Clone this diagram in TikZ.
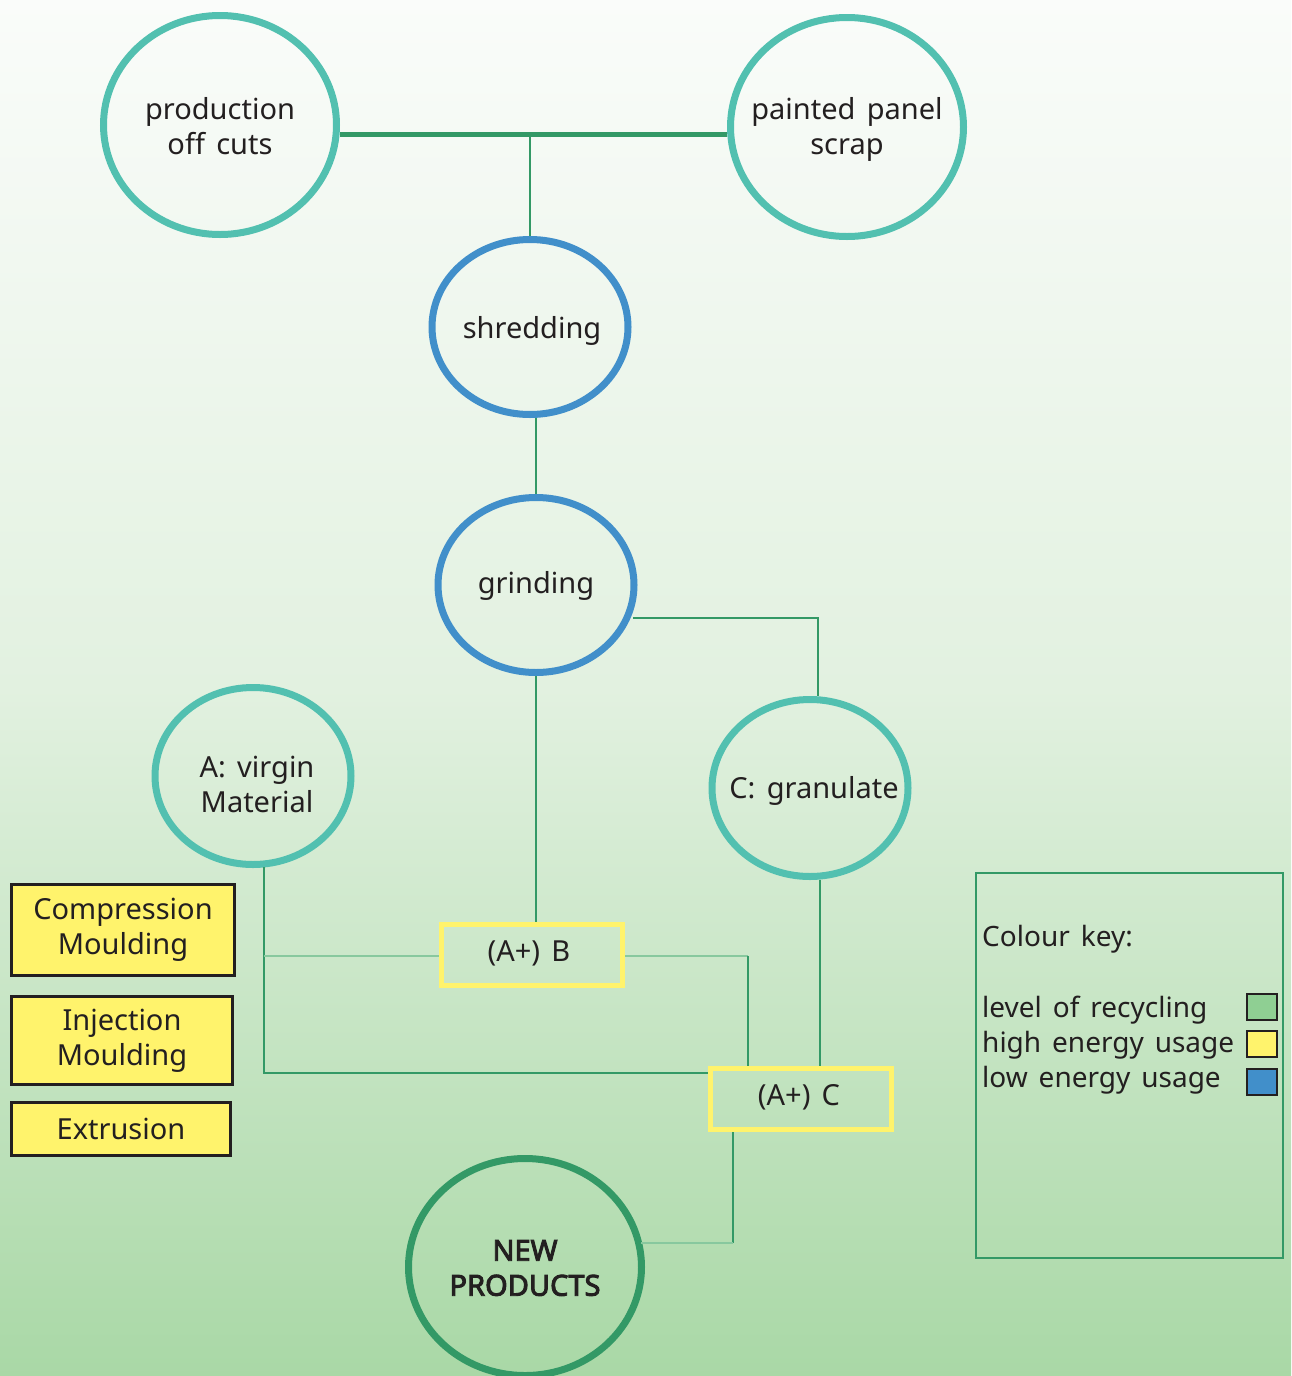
\documentclass[tikz,border=0pt]{standalone}
\usepackage{fontspec}
\setmainfont{Noto Sans}[WordSpace=1.5]
\newfontfamily\heavyfont{Noto Sans}[FakeBold=3.2, WordSpace=1.5]
\usetikzlibrary{shapes.geometric,calc}
\definecolor{cTeal}{HTML}{52C0B0}
\definecolor{cBlue}{HTML}{418FCA}
\definecolor{cDark}{HTML}{339966}
\definecolor{cLight}{HTML}{88C89E}
\definecolor{cYel}{HTML}{FFF36C}
\definecolor{cSwG}{HTML}{8FCF93}
\definecolor{cText}{HTML}{231F20}
\definecolor{bgTop}{HTML}{FAFCFA}
\definecolor{bgMid}{HTML}{E2F1E0}
\definecolor{bgBot}{HTML}{A9D8A6}
\begin{document}
\begin{tikzpicture}[x=1pt,y=-1pt,
  every node/.style={font=\fontsize{29}{35}\selectfont, text=cText, align=center},
  circ/.style={ellipse, draw, line width=7pt, inner sep=0pt},
  src/.style={circ, draw=cTeal, minimum width=233pt, minimum height=219pt},
  proc/.style={circ, draw=cBlue, minimum width=196pt, minimum height=175pt},
  mat/.style={circ, draw=cTeal, minimum width=196pt, minimum height=177pt},
  ybox/.style={rectangle, draw=cYel, line width=5pt, minimum width=181pt, minimum height=61pt, inner sep=0pt},
  mbox/.style={rectangle, draw=cText, fill=cYel, line width=3pt, inner sep=0pt},
  link/.style={draw=cDark, line width=2.5pt},
  thicklink/.style={draw=cDark, line width=5pt},
  lightlink/.style={draw=cLight, line width=2.5pt},
  swatch/.style={rectangle, draw=cText, line width=2.5pt, minimum width=30pt, minimum height=26pt, inner sep=0pt},
  keytext/.style={anchor=west, inner sep=0pt, font=\fontsize{28}{35}\selectfont},
  lbl/.style={inner sep=0pt}
]
\useasboundingbox (0,0) rectangle (1291,1376);
\shade[top color=bgTop, bottom color=bgBot, middle color=bgMid] (0,0) rectangle (1291,1376);

% shapes
\node[src] (prod) at (220,125) {};
\node[src] (paint) at (847,127) {};
\node[proc] (shred) at (530,327) {};
\node[proc] (grind) at (536,585) {};
\node[mat] (virgin) at (253,776) {};
\node[mat] (gran) at (810,788) {};
\node[ybox] (boxB) at (532,955) {};
\node[ybox] (boxC) at (801,1099) {};
\node[circ, draw=cDark, minimum width=233pt, minimum height=217pt] (newp) at (525,1267) {};

% texts
\node[lbl] (prodT) at (220,126) {production\\off cuts};
\node[lbl] (paintT) at (847,129) {painted panel\\scrap};
\node[lbl] (shredT) at (532,331) {shredding};
\node[lbl] (grindT) at (536,586) {grinding};
\node[lbl] (virginT) at (257,784) {A: virgin\\Material};
\node[lbl] (granT) at (814,791) {C: granulate};
\node[lbl] (boxBT) at (529,953) {(A+) B};
\node[lbl] (boxCT) at (799,1097) {(A+) C};
\node[lbl, font=\fontsize{29}{35}\heavyfont] (newpT) at (525,1268) {NEW\\PRODUCTS};

\node[mbox, minimum width=223pt, minimum height=91pt] (comp) at (123,930) {Compression\\Moulding};
\node[mbox, minimum width=221pt, minimum height=88pt] (inj) at (122,1040.5) {Injection\\Moulding};
\node[mbox, minimum width=219pt, minimum height=53pt] (ext) at (121,1129) {Extrusion};

% legend
\node[draw=cDark, line width=2.5pt, minimum width=307pt, minimum height=385pt, inner sep=0pt] (key) at (1129.5,1065.5) {};
\node[keytext] (keyt) at (982,939) {Colour key:};
\node[keytext] (k1) at (982,1010) {level of recycling};
\node[keytext] (k2) at (982,1045) {high energy usage};
\node[keytext] (k3) at (982,1080) {low energy usage};
\node[swatch, fill=cSwG] (s1) at (1262,1007) {};
\node[swatch, fill=cYel] (s2) at (1262,1044) {};
\node[swatch, fill=cBlue] (s3) at (1262,1082) {};

% junction coordinates
\coordinate (jt) at (530,134);
\coordinate (g1) at (633,618);
\coordinate (g2) at (818,618);
\coordinate (v1) at (264,867);
\coordinate (v2) at (264,1073);
\coordinate (vb) at (264,956);
\coordinate (b1) at (748,956);
\coordinate (c1) at (733,1243);

% connectors
\draw[thicklink] (prod.east |- jt) -- (paint.west |- jt);
\draw[link] (jt) -- (jt |- shred.north);
\draw[link] (grind.north |- shred.south) -- (grind.north);
\draw[link] (g1) -- (g2) -- (g2 |- gran.north);
\draw[link] (grind.south) -- (grind.south |- boxB.north);
\draw[link] (v1) -- (v2) -- (boxC.west |- v2);
\draw[lightlink] (vb) -- (boxB.west |- vb);
\draw[lightlink] (boxB.east |- b1) -- (b1);
\draw[link] (b1) -- (b1 |- boxC.north);
\draw[link] ([xshift=10pt]gran.south) -- ([xshift=10pt]gran.south |- boxC.north);
\draw[link] (boxC.south -| c1) -- (c1);
\draw[lightlink] (c1) -- ($(newp.east |- c1)+(-4,0)$);
\end{tikzpicture}
\end{document}
